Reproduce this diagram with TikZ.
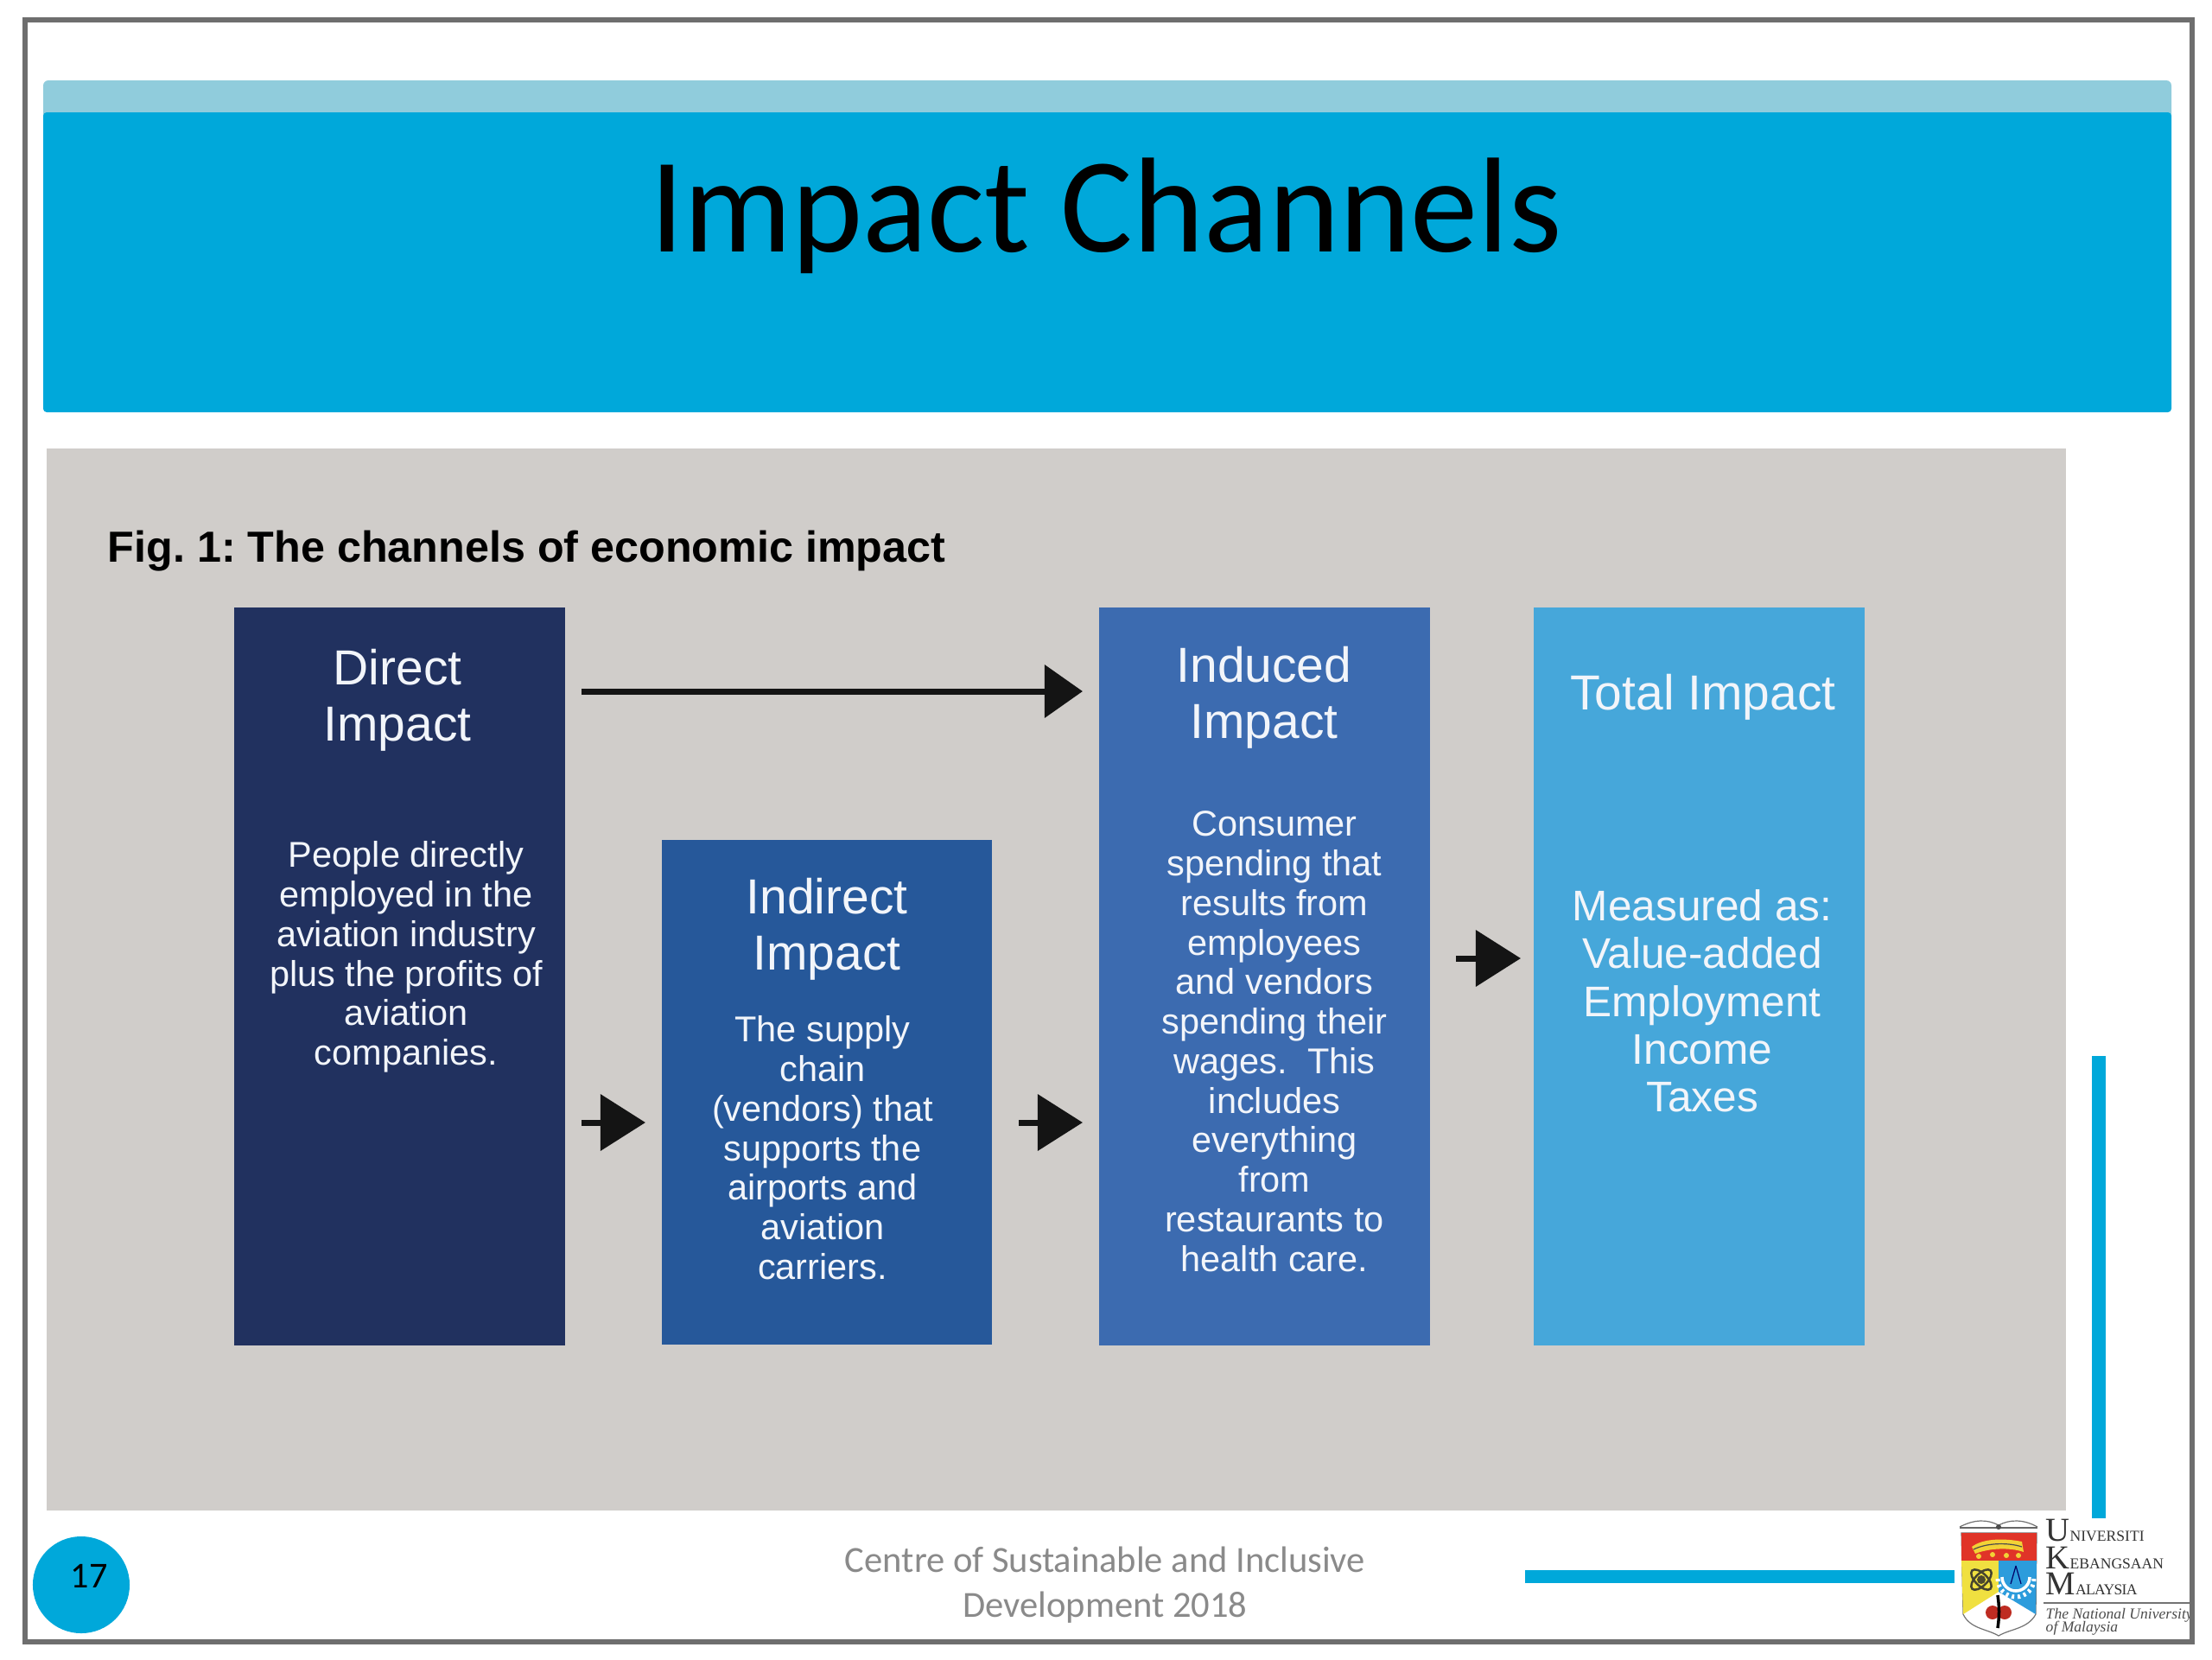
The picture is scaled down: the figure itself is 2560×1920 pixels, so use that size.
\documentclass[tikz,border=0pt]{standalone}
\usepackage{fontspec}
\usetikzlibrary{arrows.meta}
\setmainfont{Liberation Sans}
\newfontfamily\calfont{Carlito}
\newfontfamily\lserif{Liberation Serif}
\definecolor{band}{HTML}{00A8DA}
\definecolor{bandtop}{HTML}{90CCDC}
\definecolor{panel}{HTML}{D0CDCA}
\definecolor{frameg}{HTML}{6E6E6E}
\definecolor{cdirect}{HTML}{21315F}
\definecolor{cindirect}{HTML}{26589A}
\definecolor{cinduced}{HTML}{3C6BB0}
\definecolor{ctotal}{HTML}{46A7DA}
\definecolor{footg}{HTML}{8A8A8A}
\definecolor{bodyw}{HTML}{F2F5FA}
\definecolor{cred}{HTML}{E03428}
\definecolor{cyel}{HTML}{F0E040}
\definecolor{cblu}{HTML}{2C9CDC}
\tikzset{
  solidrect/.style={inner sep=0pt,outer sep=0pt,anchor=north west,draw=none},
  bx/.style={solidrect,minimum width=3.83cm,minimum height=8.53cm},
  hd/.style={anchor=north,inner sep=0pt,align=center,text=bodyw,font=\fontsize{16.2}{18.5}\selectfont},
  bd/.style={anchor=north,inner sep=0pt,align=center,text=bodyw,font=\fontsize{11.8}{13.02}\selectfont},
  bigarr/.style={line width=0.07cm,black!92,-{Triangle[length=0.44cm,width=0.6cm]}},
  smallarr/.style={line width=0.07cm,black!92,-{Triangle[length=0.52cm,width=0.64cm]}},
  ukmbig/.style={anchor=base west,inner sep=0pt,text=black!80,font=\lserif\fontsize{5}{6}\selectfont},
  ukmit/.style={anchor=base west,inner sep=0pt,text=black!70,font=\lserif\itshape\fontsize{5}{6}\selectfont},
  foot/.style={anchor=base,inner sep=0pt,text=footg,font=\calfont\fontsize{12.1}{14}\selectfont},
}
\newcommand{\bigL}[1]{{\fontsize{11}{12}\selectfont #1}}
\begin{document}
\frenchspacing
\begin{tikzpicture}[x=0.01cm,y=-0.01cm]
\useasboundingbox (0,0) rectangle (2560,1920);
\fill[white] (0,0) rectangle (2560,1920);
% title band
\fill[bandtop,rounded corners=0.06cm] (50,93) rectangle (2513,140);
\fill[band,rounded corners=0.04cm] (50,130) rectangle (2513,477);
\node[anchor=base,inner sep=0pt,font=\calfont\fontsize{44.5}{50}\selectfont] (title) at (1280,291) {Impact Channels};
% panel
\node[solidrect,fill=panel,minimum width=23.36cm,minimum height=12.28cm] (panel) at (54,519) {};
\node[anchor=base west,inner sep=0pt,font=\bfseries\fontsize{14.3}{16}\selectfont] (fig) at (124,650) {Fig. 1: The channels of economic impact};
% boxes
\node[bx,fill=cdirect] (direct) at (271,703) {};
\node[bx,fill=cindirect,minimum width=3.82cm,minimum height=5.84cm] (indirect) at (766,972) {};
\node[bx,fill=cinduced] (induced) at (1272,703) {};
\node[bx,fill=ctotal] (total) at (1775,703) {};
% box text
\node[hd] (directh) at (460,750) {Direct\\Impact};
\node[bd] (directb) at (470,973) {People directly\\employed in the\\aviation industry\\plus the profits of\\aviation\\companies.};
\node[hd] (indirecth) at (957,1015) {Indirect\\Impact};
\node[bd] (indirectb) at (952,1175) {The supply\\chain\\(vendors) that\\supports the\\airports and\\aviation\\carriers.};
\node[hd] (inducedh) at (1463,747) {Induced\\Impact};
\node[bd] (inducedb) at (1475,938) {Consumer\\spending that\\results from\\employees\\and vendors\\spending their\\wages.~~This\\includes\\everything\\from\\restaurants to\\health care.};
\node[hd] (totalh) at (1971,779) {Total Impact};
\node[anchor=north,inner sep=0pt,align=center,text=bodyw,font=\fontsize{14.1}{15.7}\selectfont] (totalb) at (1970,1029) {Measured as:\\Value-added\\Employment\\Income\\Taxes};
% arrows
\draw[bigarr,shorten <=0.19cm,shorten >=0.19cm] (direct.east |- 0,800) -- (induced.west |- 0,800);
\draw[smallarr,shorten <=0.19cm,shorten >=0.19cm] (direct.east |- 0,1299) -- (indirect.west |- 0,1299);
\draw[smallarr,shorten <=0.31cm,shorten >=0.19cm] (indirect.east |- 0,1299) -- (induced.west |- 0,1299);
\draw[smallarr,shorten <=0.30cm,shorten >=0.15cm] (induced.east |- 0,1109) -- (total.west |- 0,1109);
% side rules
\fill[band] (2421,1222) rectangle (2437,1757);
\fill[band] (1765,1817) rectangle (2262,1832);
% footer
\node[foot] (f1) at (1279,1819) {Centre of Sustainable and Inclusive};
\node[foot] (f2) at (1279,1871) {Development 2018};
% page number
\node[circle,fill=band,minimum size=1.12cm,inner sep=0pt] (page) at (94,1834) {};
\node[anchor=base,inner sep=0pt,font=\calfont\fontsize{12}{14}\selectfont] (pnum) at (103,1837) {17};
% UKM crest
\draw[black!55,line width=0.012cm,fill=white] (2313,1893) .. controls (2300,1885) and (2280,1885) .. (2272,1868) -- (2270,1774) -- (2357,1774) -- (2356,1868) .. controls (2347,1885) and (2326,1885) .. (2313,1893) -- cycle;
\fill[cred] (2270,1774) rectangle (2357,1806);
\fill[cyel] (2270,1806) -- (2313,1806) -- (2313,1842) -- (2272,1868) -- cycle;
\fill[cblu] (2313,1806) -- (2357,1806) -- (2356,1868) -- (2313,1842) -- cycle;
% tiger
\fill[cyel!85!orange] (2282,1790) .. controls (2295,1780) and (2320,1780) .. (2340,1784) -- (2342,1796) .. controls (2325,1790) and (2300,1792) .. (2286,1798) -- cycle;
\draw[black!70,line width=0.012cm] (2284,1793) .. controls (2300,1785) and (2325,1785) .. (2340,1790);
\fill[cyel!85!orange] (2290,1801) circle (3) (2306,1799) circle (3) (2322,1800) circle (3) (2336,1800) circle (3);
% atom
\draw[black!65!olive,line width=0.025cm,rotate around={45:(2293,1828)}] (2293,1828) ellipse (15 and 7);
\draw[black!65!olive,line width=0.025cm,rotate around={-45:(2293,1828)}] (2293,1828) ellipse (15 and 7);
\fill[black!60!olive] (2293,1828) circle (5);
% gear and compass
\draw[white,line width=0.035cm] (2317,1825) arc (180:0:16);
\draw[white,line width=0.05cm,dash pattern=on 0.03cm off 0.04cm] (2312,1827) arc (180:0:21);
\draw[black!60!blue,line width=0.012cm] (2333,1812) -- (2327,1833) (2333,1812) -- (2339,1833);
% fruit
\fill[cred!85!black] (2306,1866) circle (8);
\fill[cred!85!black] (2320,1866) circle (8);
\draw[black,line width=0.035cm] (2312,1846) .. controls (2314,1860) and (2314,1870) .. (2312,1884);
% book
\draw[black!55,line width=0.012cm] (2268,1767) .. controls (2285,1758) and (2300,1758) .. (2313,1765) .. controls (2326,1758) and (2342,1758) .. (2358,1767);
\draw[black!60,line width=0.018cm] (2268,1768) -- (2358,1768);
\fill[black!70] (2313,1767) circle (3);
% UKM wordmark
\node[ukmbig] (u1) at (2367,1783) {\bigL{U}NIVERSITI};
\node[ukmbig] (u2) at (2367,1815) {\bigL{K}EBANGSAAN};
\node[ukmbig] (u3) at (2367,1845) {\bigL{M}\addfontfeature{LetterSpace=-4}ALAYSIA};
\draw[black!55,line width=0.012cm] (2365,1855) -- (2534,1855);
\node[ukmit] (u4) at (2367,1873) {The National University};
\node[ukmit] (u5) at (2367,1888) {of Malaysia};
% outer frame
\draw[frameg,line width=0.06cm] (29,23) rectangle (2537,1900);
\end{tikzpicture}
\end{document}
